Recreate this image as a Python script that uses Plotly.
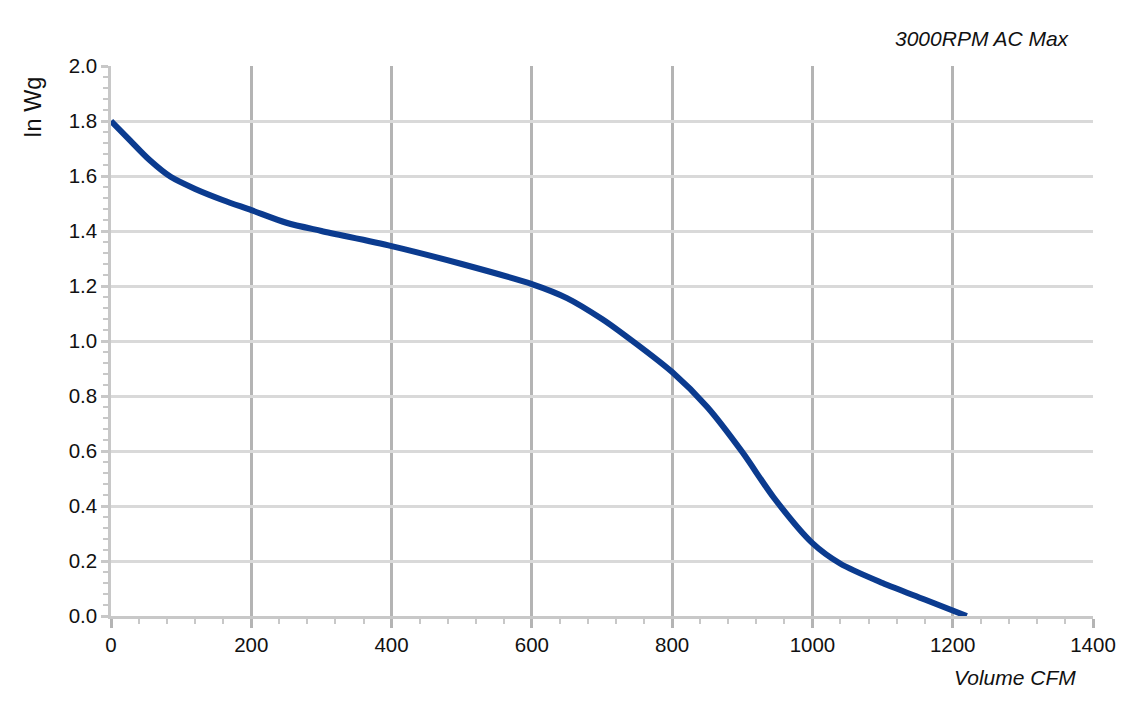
import plotly.graph_objects as go

cfm = [0, 25, 55, 85, 120, 160, 200, 250, 300, 400, 500, 600, 650, 700, 725, 800, 850, 900, 945, 1000, 1040, 1100, 1160, 1220]
inwg = [1.80, 1.735, 1.658, 1.597, 1.553, 1.512, 1.476, 1.43, 1.40, 1.345, 1.28, 1.207, 1.156, 1.08, 1.035, 0.887, 0.76, 0.596, 0.43, 0.265, 0.19, 0.12, 0.06, 0.0]

title_text = "3000RPM AC Max"
x_title = "Volume CFM"
y_title = "In Wg"

FAM = "Liberation Sans, Arial, sans-serif"

fig = go.Figure()
fig.add_trace(go.Scatter(x=cfm, y=inwg, mode="lines",
                         line=dict(color="#0b3b8f", width=6, shape="spline", smoothing=0.8),
                         hoverinfo="skip"))

font = dict(family=FAM, size=20.5, color="#111")

fig.update_layout(
    width=1137, height=707,
    margin=dict(l=103, r=52, t=58, b=99),
    paper_bgcolor="white", plot_bgcolor="white",
    showlegend=False,
    font=font,
    xaxis=dict(range=[0, 1400], dtick=200, tick0=0,
               showgrid=True, gridcolor="#b4b4b4", gridwidth=2.5,
               showline=True, linecolor="#c8c8c8", linewidth=2.5,
               ticks="outside", ticklen=9, tickcolor="#b4b4b4", tickwidth=2.5,
               minor=dict(dtick=40, ticks="outside", ticklen=5, tickcolor="#c8c8c8", tickwidth=2, showgrid=False),
               zeroline=False,
               tickfont=font),
    yaxis=dict(range=[0, 2.0], dtick=0.2, tick0=0, tickformat=".1f",
               showgrid=True, gridcolor="#d9d9d9", gridwidth=2.5,
               showline=True, linecolor="#c8c8c8", linewidth=2.5,
               ticks="outside", ticklen=7, tickcolor="#c8c8c8", tickwidth=2.5,
               minor=dict(dtick=0.04, ticks="outside", ticklen=5, tickcolor="#c8c8c8", tickwidth=2, showgrid=False),
               zeroline=False,
               tickfont=font),
)

fig.add_annotation(text="<i>" + title_text + "</i>", xref="paper", yref="paper", x=1.0, y=1.0,
                   xanchor="right", yanchor="middle", yshift=28, xshift=-21, showarrow=False,
                   font=dict(family=FAM, size=21, color="#111"))
fig.add_annotation(text="<i>" + x_title + "</i>", xref="paper", yref="paper", x=1.0, y=0,
                   xanchor="right", yanchor="middle", yshift=-61, xshift=-15, showarrow=False,
                   font=dict(family=FAM, size=21, color="#111"))
fig.add_annotation(text=y_title, xref="paper", yref="paper", x=0, y=1.0,
                   xanchor="center", yanchor="middle", xshift=-78, yshift=-42, showarrow=False,
                   textangle=-90,
                   font=dict(family=FAM, size=23.5, color="#111"))

fig.write_html("out.html")
